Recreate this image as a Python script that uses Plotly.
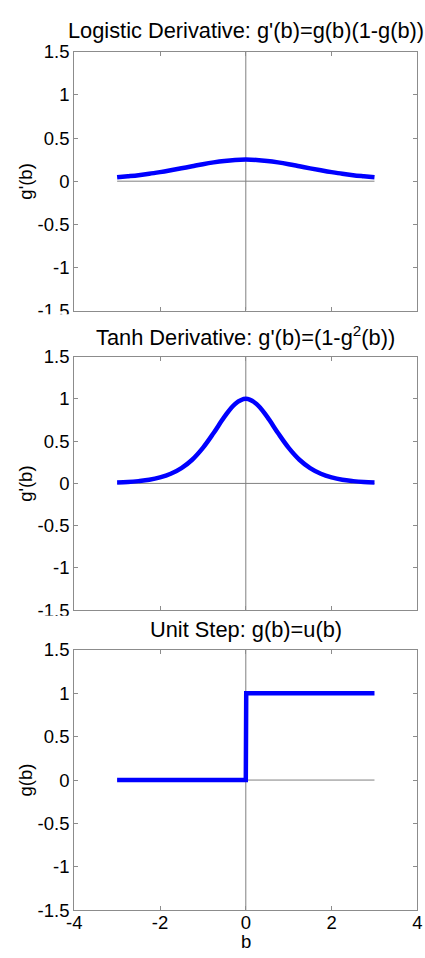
import plotly.graph_objects as go

# ---- data ----
b_vals = [-3.0, -2.75, -2.5, -2.25, -2.0, -1.75, -1.5, -1.25, -1.0, -0.75, -0.5, -0.25, 0.0,
          0.25, 0.5, 0.75, 1.0, 1.25, 1.5, 1.75, 2.0, 2.25, 2.5, 2.75, 3.0]
logistic_deriv = [0.045, 0.057, 0.070, 0.086, 0.105, 0.126, 0.149, 0.173, 0.197, 0.218, 0.235, 0.246, 0.250,
                  0.246, 0.235, 0.218, 0.197, 0.173, 0.149, 0.126, 0.105, 0.086, 0.070, 0.057, 0.045]
tanh_deriv = [0.010, 0.016, 0.027, 0.043, 0.071, 0.114, 0.181, 0.280, 0.420, 0.596, 0.786, 0.940, 1.000,
              0.940, 0.786, 0.596, 0.420, 0.280, 0.181, 0.114, 0.071, 0.043, 0.027, 0.016, 0.010]
step_b = [-3.0, 0.0, 0.01, 3.0]
step_g = [0.0, 0.0, 1.0, 1.0]

hline_b = [-3.0, 3.0]
hline_g = [0.0, 0.0]
vline_b = [0.0, 0.0]
vline_g = [-1.5, 1.5]

titles = ["Logistic Derivative: g'(b)=g(b)(1-g(b))",
          "Tanh Derivative: g'(b)=(1-g<sup>2</sup>(b))",
          "Unit Step: g(b)=u(b)"]
ylabels = ["g'(b)", "g'(b)", "g(b)"]
xlabel = "b"
ytick_vals = [-1.5, -1.0, -0.5, 0.0, 0.5, 1.0, 1.5]
ytick_text = ["-1.5", "-1", "-0.5", "0", "0.5", "1", "1.5"]
xtick_vals = [-4, -2, 0, 2, 4]
xtick_text = ["-4", "-2", "0", "2", "4"]

# ---- layout geometry (pixels) ----
W, H = 425, 958
left_px, right_px = 68.3, 422.3
panels_px = [(41.7, 306.3), (353.3, 612.7), (653.3, 919.3)]
title_px = [19.5, 332.0, 632.0]

FONT = "Liberation Sans, Arial, Helvetica, sans-serif"
BLUE = "#0000FF"
GRAY = "#808080"
FRAME = "#8c8c8c"


def py(p):
    return 1 - p / H


def px(p):
    return p / W


fig = go.Figure()
series = [(b_vals, logistic_deriv, "spline"), (b_vals, tanh_deriv, "spline"), (step_b, step_g, "linear")]

for i, (xs, ys, shp) in enumerate(series):
    xa = "x" if i == 0 else f"x{i+1}"
    ya = "y" if i == 0 else f"y{i+1}"
    fig.add_trace(go.Scatter(x=hline_b, y=hline_g, mode="lines", line=dict(color=GRAY, width=1),
                             xaxis=xa, yaxis=ya, showlegend=False, hoverinfo="skip"))
    fig.add_trace(go.Scatter(x=vline_b, y=vline_g, mode="lines", line=dict(color=GRAY, width=1),
                             xaxis=xa, yaxis=ya, showlegend=False, hoverinfo="skip"))
    fig.add_trace(go.Scatter(x=xs, y=ys, mode="lines", line=dict(color=BLUE, width=4.5, shape=shp),
                             xaxis=xa, yaxis=ya, showlegend=False))

layout = dict(
    width=W, height=H, autosize=False,
    margin=dict(l=0, r=0, t=0, b=0),
    paper_bgcolor="white", plot_bgcolor="white",
    font=dict(family=FONT, size=18, color="black"),
    showlegend=False,
)

annotations = []
shapes = []
for i, (top, bot) in enumerate(panels_px):
    xk = "xaxis" if i == 0 else f"xaxis{i+1}"
    yk = "yaxis" if i == 0 else f"yaxis{i+1}"
    anchor_x = "y" if i == 0 else f"y{i+1}"
    anchor_y = "x" if i == 0 else f"x{i+1}"
    layout[xk] = dict(
        domain=[px(left_px), px(right_px)], anchor=anchor_x, range=[-4, 4],
        tickvals=xtick_vals, ticktext=xtick_text, showticklabels=(i == 2),
        ticks="inside", ticklen=4, tickcolor=FRAME, showline=True, linecolor=FRAME,
        linewidth=1, mirror="ticks", showgrid=False, zeroline=False,
        tickfont=dict(size=18.5, family=FONT), ticklabelstandoff=-4,
        ticklabeloverflow="allow",
    )
    layout[yk] = dict(
        domain=[py(bot), py(top)], anchor=anchor_y, range=[-1.5, 1.5],
        tickvals=ytick_vals, ticktext=ytick_text,
        ticks="inside", ticklen=4, tickcolor=FRAME, showline=True, linecolor=FRAME,
        linewidth=1, mirror="ticks", showgrid=False, zeroline=False,
        tickfont=dict(size=18.5, family=FONT), ticklabeloverflow="allow",
    )
    annotations.append(dict(text=titles[i], xref="paper", yref="paper",
                            x=px((left_px + right_px) / 2), y=py(title_px[i]),
                            xanchor="center", yanchor="middle", showarrow=False,
                            font=dict(size=21.8, family=FONT, color="black")))
    annotations.append(dict(text=ylabels[i], xref="paper", yref="paper",
                            x=px(18), y=py((top + bot) / 2), textangle=-90,
                            xanchor="center", yanchor="middle", showarrow=False,
                            font=dict(size=18.5, family=FONT, color="black")))

annotations.append(dict(text=xlabel, xref="paper", yref="paper", x=px(245.3), y=py(951),
                        xanchor="center", yanchor="middle", showarrow=False,
                        font=dict(size=18.5, family=FONT, color="black")))

# white strips covering the bottom of the clipped "-1.5" labels of upper panels
for y0, y1 in [(310.0, 346.0), (618.3, 646.0)]:
    shapes.append(dict(type="rect", xref="paper", yref="paper", x0=0, x1=px(66.5),
                       y0=py(y1), y1=py(y0), fillcolor="white", line=dict(width=0), layer="above"))

layout["annotations"] = annotations
layout["shapes"] = shapes
fig.update_layout(**layout)

css = ("margin:0;padding:0;overflow:hidden;width:425px;height:958px;")
fig.write_html(
    "out.html",
    config={"responsive": False, "displayModeBar": False},
    post_script=("document.documentElement.style.cssText='" + css + "';"
                 "document.body.style.cssText='" + css + "';"),
)
